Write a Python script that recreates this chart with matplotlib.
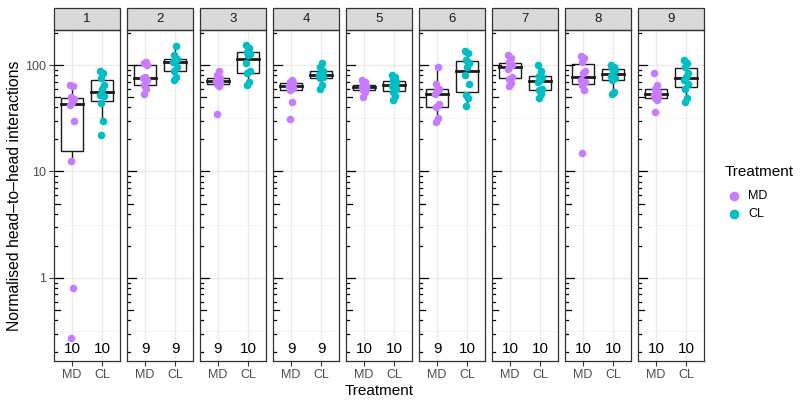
import numpy as np
import matplotlib.pyplot as plt
from matplotlib.patches import Rectangle
from matplotlib.lines import Line2D
from matplotlib.ticker import NullLocator

plt.rcParams['font.family'] = ['Liberation Sans', 'DejaVu Sans']

# valeurs (une liste par panneau)
panels = ['1', '2', '3', '4', '5', '6', '7', '8', '9']
groups = ['MD', 'CL']
md_vals = [
    [0.27, 0.8, 12.5, 30, 42, 45, 48, 50, 63, 65],
    [54, 60, 65, 72, 75, 78, 100, 104, 107],
    [35, 64, 66, 68, 71, 73, 75, 80, 87],
    [31, 45, 58, 61, 63, 66, 68, 70, 72],
    [50, 56, 58, 61, 62, 63, 64, 66, 69, 73],
    [29, 32, 40, 43, 53, 57, 60, 67, 95],
    [63, 68, 74, 78, 92, 98, 100, 107, 116, 124],
    [15, 58, 65, 70, 72, 84, 87, 107, 116, 121],
    [36, 47, 49, 50, 52, 54, 56, 60, 65, 84],
]
cl_vals = [
    [22, 29.5, 44, 51, 52, 59, 65, 76, 85, 88],
    [73, 78, 88, 96, 107, 112, 114, 124, 151],
    [65, 70, 84, 87, 104, 124, 126, 133, 144, 154],
    [60, 65, 75, 78, 81, 85, 87, 96, 104],
    [47, 51, 56, 60, 63, 67, 70, 72, 77, 81],
    [41, 49, 52, 67, 80, 96, 104, 111, 129, 136],
    [49, 54, 58, 60, 70, 73, 77, 79, 87, 100],
    [54, 56, 72, 75, 79, 87, 90, 93, 96, 100],
    [45, 49, 60, 67, 72, 78, 84, 96, 104, 111],
]
count_y = 0.215  # position des effectifs

COLORS = {'MD': '#C77CFF', 'CL': '#00BFC4'}
JITTER = np.array([-0.05, 0.04, -0.02, 0.07, -0.08, 0.01, 0.05, -0.04, 0.03, -0.06])
W, H = 800, 404
LEFT, PW, GAP = 54, 66, 7
TOP, BOT = 30, 361
YLIM = (10 ** -0.780, 10 ** 2.329)


def box_stats(v):
    # stats calculées en échelle log (comme scale_y_log10)
    lv = np.log10(v)
    q1, med, q3 = np.percentile(lv, [25, 50, 75])
    iqr = q3 - q1
    lo = lv[lv >= q1 - 1.5 * iqr].min()
    hi = lv[lv <= q3 + 1.5 * iqr].max()
    return [10 ** x for x in (lo, q1, med, q3, hi)]


fig = plt.figure(figsize=(W / 100, H / 100), dpi=100)

for i, name in enumerate(panels):
    x0 = LEFT + i * (PW + GAP)
    ax = fig.add_axes([x0 / W, 1 - BOT / H, PW / W, (BOT - TOP) / H])
    ax.set_yscale('log')
    ax.set_ylim(*YLIM)
    ax.set_xlim(0.4, 2.6)
    ax.yaxis.set_minor_locator(NullLocator())

    # grille
    for v in [1, 10, 100]:
        ax.axhline(v, color='#EBEBEB', lw=1.0, zorder=0)
    for v in [10 ** -0.5, 10 ** 0.5, 10 ** 1.5]:
        ax.axhline(v, color='#F2F2F2', lw=0.6, zorder=0)
    for v in [1, 2]:
        ax.axvline(v, color='#EBEBEB', lw=1.0, zorder=0)

    # log ticks à gauche
    for n in range(-1, 3):
        for k in range(1, 10):
            v = k * 10 ** n
            if YLIM[0] <= v <= YLIM[1]:
                ln = 0.14 if k == 1 else (0.09 if k == 5 else 0.045)
                ax.plot([0, ln], [v, v], transform=ax.get_yaxis_transform(),
                        color='black', lw=0.9, zorder=2)

    for p, (g, vals) in enumerate(zip(groups, [md_vals[i], cl_vals[i]]), start=1):
        vals = np.array(vals, dtype=float)
        lo, q1, med, q3, hi = box_stats(vals)
        ax.add_patch(Rectangle((p - 0.375, q1), 0.75, q3 - q1, facecolor='white',
                               edgecolor='#1A1A1A', lw=1.0, zorder=1.5))
        ax.plot([p - 0.375, p + 0.375], [med, med], color='#1A1A1A', lw=2.0, zorder=1.6)
        ax.plot([p, p], [q3, hi], color='#1A1A1A', lw=1.0, zorder=1.4)
        ax.plot([p, p], [lo, q1], color='#1A1A1A', lw=1.0, zorder=1.4)
        ax.scatter(p + JITTER[:len(vals)], vals, s=30, color=COLORS[g], lw=0, zorder=3)
        ax.text(p, count_y, str(len(vals)), ha='center', va='center', fontsize=11, color='black')

    ax.set_xticks([1, 2])
    ax.set_xticklabels(groups)
    ax.tick_params(axis='x', length=3.5, width=0.8, color='#333333', labelcolor='#4D4D4D',
                   labelsize=9, pad=2)
    if i == 0:
        ax.set_yticks([1, 10, 100])
        ax.set_yticklabels(['1', '10', '100'])
        ax.tick_params(axis='y', length=3.5, width=0.8, color='#333333', labelcolor='#4D4D4D',
                       labelsize=9, pad=2)
    else:
        ax.set_yticks([])
    for s in ax.spines.values():
        s.set_color('#333333')
        s.set_linewidth(0.9)

    # strip
    sh = 22 / (BOT - TOP)
    ax.add_patch(Rectangle((0, 1), 1, sh, transform=ax.transAxes, facecolor='#D9D9D9',
                           edgecolor='#333333', lw=0.9, clip_on=False))
    ax.text(0.5, 1 + sh / 2, name, transform=ax.transAxes, ha='center', va='center',
            fontsize=9.5, color='#1A1A1A')

fig.text(15 / W, 1 - (TOP + BOT) / 2 / H, 'Normalised head\u2013to\u2013head interactions',
         rotation=90, ha='center', va='center', fontsize=11.3)
fig.text((LEFT + 9 * PW + 8 * GAP + LEFT) / 2 / W, 1 - 391 / H, 'Treatment',
         ha='center', va='center', fontsize=11)

# légende
fig.text(725 / W, 1 - 172 / H, 'Treatment', ha='left', va='center', fontsize=11)
for j, g in enumerate(groups):
    yy = 1 - (196 + 18 * j) / H
    fig.add_artist(Line2D([734 / W], [yy], marker='o', markersize=6, color=COLORS[g],
                          lw=0, transform=fig.transFigure))
    fig.text(748 / W, yy, g, ha='left', va='center', fontsize=9)

plt.savefig('out.png', dpi=100)
